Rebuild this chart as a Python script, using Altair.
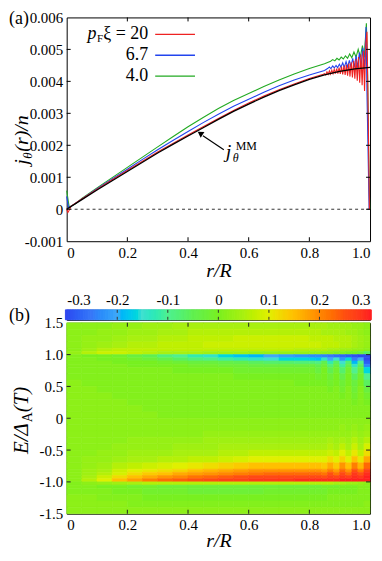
import altair as alt
import pandas as pd
import numpy as np

FONT = "Liberation Serif"
RED, BLUE, GREEN = "#ee2222", "#2244ee", "#22aa22"

# ---------------- panel (a): j_theta(r)/n, values in units of 1e-3 ----------------
mm_r = [0, 0.05, 0.10, 0.15, 0.20, 0.25, 0.30, 0.35, 0.40, 0.45, 0.50, 0.55, 0.60, 0.65, 0.70, 0.75, 0.80, 0.85, 0.90, 0.95, 1.0]
mm_j = [0, 0.30, 0.60, 0.89, 1.18, 1.47, 1.76, 2.03, 2.29, 2.55, 2.81, 3.06, 3.29, 3.51, 3.71, 3.89, 4.06, 4.20, 4.31, 4.39, 4.44]

red_r = [0, 0.004, 0.008, 0.015, 0.03, 0.05, 0.10, 0.15, 0.20, 0.25, 0.30, 0.35, 0.40, 0.45, 0.50, 0.55, 0.60, 0.65, 0.70, 0.75, 0.80, 0.846,
         0.850, 0.854, 0.858, 0.862, 0.866, 0.870, 0.874, 0.878, 0.882, 0.886, 0.890, 0.894, 0.898, 0.902, 0.906, 0.910, 0.914, 0.918,
         0.922, 0.926, 0.930, 0.934, 0.938, 0.942, 0.946, 0.950, 0.954, 0.958, 0.962, 0.966, 0.970, 0.974, 0.978, 0.982, 0.986, 0.990,
         0.993, 0.996, 0.998]
red_j = [0, -0.10, -0.03, 0.10, 0.20, 0.32, 0.63, 0.92, 1.21, 1.50, 1.79, 2.06, 2.32, 2.58, 2.84, 3.09, 3.32, 3.54, 3.74, 3.92, 4.09, 4.22,
         4.24, 4.20, 4.30, 4.22, 4.33, 4.23, 4.35, 4.24, 4.38, 4.24, 4.40, 4.24, 4.43, 4.23, 4.46, 4.22, 4.49, 4.20,
         4.52, 4.18, 4.56, 4.15, 4.60, 4.12, 4.64, 4.08, 4.70, 4.02, 4.76, 3.96, 4.84, 3.88, 4.95, 3.70, 5.20, 5.55,
         3.65, 1.50, 0.0]

blue_r = [0, 0.006, 0.012, 0.02, 0.05, 0.10, 0.15, 0.20, 0.25, 0.30, 0.35, 0.40, 0.45, 0.50, 0.55, 0.60, 0.65, 0.70, 0.75, 0.80, 0.85,
          0.860, 0.866, 0.871, 0.877, 0.882, 0.888, 0.893, 0.899, 0.904, 0.910, 0.915, 0.921, 0.926, 0.932, 0.937, 0.943, 0.948,
          0.954, 0.959, 0.965, 0.970, 0.976, 0.981, 0.987, 0.990, 0.993, 0.997]
blue_j = [0.40, 0.05, 0.08, 0.13, 0.32, 0.64, 0.95, 1.25, 1.56, 1.86, 2.15, 2.43, 2.71, 2.97, 3.22, 3.44, 3.66, 3.86, 4.04, 4.20, 4.34,
          4.40, 4.45, 4.40, 4.48, 4.42, 4.50, 4.43, 4.54, 4.44, 4.58, 4.44, 4.62, 4.45, 4.66, 4.45, 4.72, 4.44,
          4.80, 4.42, 4.90, 4.40, 5.05, 4.35, 5.70, 3.60, 2.10, 0.0]

green_r = [0, 0.008, 0.015, 0.03, 0.05, 0.10, 0.15, 0.20, 0.25, 0.30, 0.35, 0.40, 0.45, 0.50, 0.55, 0.60, 0.65, 0.70, 0.75, 0.80, 0.85,
           0.870, 0.877, 0.884, 0.891, 0.898, 0.905, 0.912, 0.919, 0.926, 0.933, 0.940, 0.947, 0.954, 0.961, 0.968, 0.975,
           0.981, 0.988, 0.992, 0.995, 0.999]
green_j = [0.58, 0.08, 0.10, 0.18, 0.34, 0.67, 0.99, 1.31, 1.63, 1.95, 2.27, 2.58, 2.87, 3.15, 3.40, 3.62, 3.84, 4.04, 4.23, 4.40, 4.55,
           4.63, 4.68, 4.64, 4.72, 4.67, 4.76, 4.70, 4.80, 4.72, 4.86, 4.74, 4.92, 4.76, 5.00, 4.76, 5.12,
           4.75, 5.82, 4.20, 2.00, 0.0]

legend_labels = ["ξ = 20", "6.7", "4.0"]
a_xticks = [0, 0.2, 0.4, 0.6, 0.8, 1.0]
a_yticks = [-0.001, 0, 0.001, 0.002, 0.003, 0.004, 0.005, 0.006]
zero_level = [0.0]

# ---------------- panel (b): spectral current density map ----------------
r_edges = [0, 0.05, 0.10, 0.15, 0.20, 0.25, 0.30, 0.35, 0.40, 0.45, 0.50, 0.55, 0.60, 0.65, 0.70, 0.75, 0.80,
           0.82, 0.84, 0.86, 0.88, 0.90, 0.92, 0.94, 0.96, 0.98, 1.0]
e_edges = [1.5, 1.4, 1.3, 1.2, 1.1, 1.05, 1.0, 0.95, 0.9, 0.85, 0.8, 0.7, 0.6, 0.5, 0.4, 0.3, 0.2, 0.1, 0.0,
           -0.1, -0.2, -0.3, -0.4, -0.5, -0.6, -0.7, -0.8, -0.85, -0.9, -0.95, -1.0, -1.05, -1.1, -1.2, -1.3, -1.4, -1.5]
# values x100, rows from top (E=1.5) to bottom (E=-1.5), columns along r_edges
grid = [
    [2, 2, 2, 3, 3, 4, 4, 5, 5, 5, 5, 5, 5, 5, 5, 5, 5, 5, 5, 4, 4, 4, 4, 3, 3, 2],
    [2, 2, 3, 3, 4, 4, 5, 5, 6, 6, 6, 6, 6, 6, 6, 6, 6, 6, 5, 5, 5, 5, 4, 4, 3, 2],
    [2, 3, 3, 4, 5, 5, 6, 6, 7, 7, 7, 8, 8, 8, 8, 8, 7, 7, 7, 7, 6, 6, 6, 5, 4, 3],
    [2, 3, 4, 5, 6, 6, 7, 7, 7, 8, 8, 8, 8, 8, 8, 8, 8, 8, 7, 7, 7, 6, 6, 5, 4, 3],
    [2, 4, 6, 7, 7, 7, 7, 7, 7, 7, 7, 7, 7, 7, 7, 6, 6, 6, 6, 5, 5, 4, 4, 3, 3, 2],
    [3, 6, 8, 8, 7, 6, 5, 5, 5, 4, 4, 4, 3, 3, 3, 3, 3, 3, 2, 2, 1, 1, 0, 0, -2, -6],
    [1, 0, 0, -1, -3, -5, -8, -10, -12, -14, -16, -18, -19, -20, -21, -22, -23, -23, -24, -25, -26, -27, -28, -29, -30, -30],
    [1, 1, 0, 0, -1, -2, -4, -6, -8, -9, -11, -12, -14, -15, -16, -16, -17, -18, -14, -20, -15, -22, -16, -25, -20, -30],
    [1, 1, 1, 0, 0, 0, -1, -2, -3, -3, -4, -5, -6, -7, -7, -8, -8, -9, -5, -12, -6, -15, -7, -19, -10, -28],
    [1, 1, 1, 1, 0, 0, 0, 0, -1, -1, -2, -2, -3, -3, -3, -3, -3, -5, -2, -8, -3, -11, -4, -14, -6, -24],
    [1, 1, 1, 1, 1, 1, 1, 0, 0, 0, 0, -1, -1, -1, -1, -1, -1, -3, 0, -5, -1, -7, -1, -10, -3, -16],
    [1, 1, 1, 1, 1, 1, 1, 1, 1, 1, 1, 0, 0, 0, 0, 0, 0, -1, 0, -2, 0, -4, 0, -6, -1, -10],
    [2, 1, 1, 1, 1, 1, 1, 1, 1, 1, 1, 1, 1, 1, 1, 0, 0, 0, 0, -1, 0, -2, 0, -3, 0, -6],
    [2, 2, 1, 1, 1, 1, 1, 1, 1, 1, 1, 1, 1, 1, 1, 1, 1, 1, 1, 0, 1, -1, 1, -2, 1, -3],
    [2, 2, 2, 1, 1, 1, 1, 1, 1, 1, 1, 1, 1, 1, 1, 1, 1, 1, 1, 1, 1, 0, 1, -1, 1, -1],
    [2, 2, 2, 2, 1, 1, 1, 1, 1, 1, 1, 1, 1, 1, 1, 1, 1, 1, 1, 1, 1, 1, 1, 0, 1, 0],
    [2, 2, 2, 2, 2, 1, 1, 1, 1, 1, 1, 1, 1, 1, 1, 1, 1, 1, 1, 1, 1, 1, 1, 1, 1, 1],
    [2, 2, 2, 2, 2, 2, 1, 1, 1, 1, 1, 1, 1, 1, 1, 1, 1, 1, 1, 1, 1, 1, 1, 1, 1, 1],
    [2, 2, 2, 2, 2, 2, 2, 2, 2, 2, 2, 2, 2, 2, 2, 2, 2, 2, 2, 2, 2, 2, 2, 2, 2, 2],
    [2, 2, 2, 2, 2, 2, 2, 2, 2, 2, 2, 2, 2, 2, 2, 2, 2, 2, 2, 2, 2, 3, 2, 3, 2, 3],
    [2, 2, 2, 2, 2, 2, 2, 2, 2, 3, 3, 3, 3, 3, 3, 3, 3, 3, 3, 3, 3, 3, 3, 4, 3, 4],
    [2, 2, 2, 2, 3, 3, 3, 3, 3, 4, 4, 4, 4, 4, 4, 4, 4, 4, 4, 5, 4, 5, 4, 6, 4, 6],
    [2, 2, 2, 3, 3, 3, 3, 4, 4, 4, 5, 5, 5, 5, 5, 5, 5, 5, 5, 6, 5, 7, 5, 8, 5, 9],
    [2, 2, 3, 3, 4, 4, 4, 5, 5, 5, 6, 6, 7, 7, 7, 7, 7, 7, 7, 8, 7, 10, 7, 11, 7, 12],
    [2, 3, 3, 4, 5, 5, 6, 6, 7, 7, 8, 9, 10, 10, 10, 10, 10, 10, 10, 12, 10, 13, 10, 15, 11, 17],
    [2, 3, 4, 6, 7, 8, 9, 10, 11, 12, 13, 14, 15, 15, 15, 15, 15, 15, 14, 17, 14, 19, 15, 21, 16, 23],
    [2, 4, 5, 8, 10, 11, 12, 13, 15, 16, 17, 18, 19, 19, 19, 19, 19, 19, 18, 21, 18, 23, 19, 25, 21, 27],
    [2, 4, 6, 9, 12, 14, 15, 17, 18, 19, 20, 21, 22, 23, 23, 23, 23, 23, 22, 25, 22, 26, 23, 28, 25, 29],
    [2, 5, 8, 12, 15, 17, 19, 20, 22, 23, 24, 25, 26, 26, 26, 26, 26, 26, 25, 27, 26, 28, 27, 29, 28, 30],
    [2, 6, 10, 15, 18, 21, 23, 24, 25, 26, 27, 27, 28, 28, 28, 29, 29, 29, 29, 29, 29, 30, 30, 30, 30, 30],
    [1, 2, 3, 4, 5, 6, 6, 6, 6, 6, 6, 6, 6, 6, 6, 6, 6, 6, 6, 6, 5, 5, 4, 4, 3, 2],
    [1, 1, 0, 0, -1, -1, -2, -2, -2, -2, -2, -2, -2, -2, -2, -2, -2, -2, -1, -1, -1, 0, 0, 0, 1, 1],
    [1, 1, 1, 0, 0, -1, -1, -1, -2, -2, -2, -2, -2, -1, -1, -1, -1, -1, -1, 0, 0, 0, 0, 0, 1, 1],
    [2, 2, 1, 1, 1, 0, 0, 0, 0, 0, 0, 0, 0, 0, 0, 0, 0, 0, 0, 1, 1, 1, 1, 1, 1, 1],
    [2, 2, 2, 2, 1, 1, 1, 1, 1, 1, 1, 1, 1, 1, 1, 1, 1, 1, 1, 1, 1, 1, 1, 1, 1, 2],
    [2, 2, 2, 2, 2, 2, 2, 2, 2, 2, 2, 2, 2, 2, 2, 2, 2, 2, 2, 2, 2, 2, 2, 2, 2, 2],
]
b_xticks = [0, 0.2, 0.4, 0.6, 0.8, 1.0]
b_yticks = [-1.5, -1.0, -0.5, 0, 0.5, 1.0, 1.5]
cb_ticks = [-0.3, -0.2, -0.1, 0, 0.1, 0.2, 0.3]
cb_stops = [-0.3, -0.25, -0.2, -0.15, -0.1, -0.05, 0, 0.05, 0.1, 0.15, 0.2, 0.25, 0.3]
cb_colors = ["#3048f0", "#3878f8", "#40a8f8", "#40e0d0", "#50f090", "#60f050", "#78f020",
             "#a8f010", "#e0f000", "#ffc000", "#ff8800", "#ff5010", "#ff2020"]

# ---------------- build ----------------
WA, HA = 305, 225
WB, HB = 305, 192
TL = 4  # inward tick length

def curve(r, j):
    return pd.DataFrame({"r": r, "j": np.array(j) / 1000.0})

def label(text, size, x, y, italic=False, align="left", baseline="alphabetic", angle=0):
    kw = dict(font=FONT, fontSize=size, align=align, baseline=baseline, color="black")
    if italic:
        kw["fontStyle"] = "italic"
    if angle:
        kw["angle"] = angle
    return alt.Chart(pd.DataFrame({"t": [text]})).mark_text(**kw).encode(
        x=alt.value(x), y=alt.value(y), text="t:N")

num1 = "datum.value == 0 ? '0' : format(datum.value, '.1f')"
sgn1 = "datum.value == 0 ? '0' : (datum.value < 0 ? '-' : '') + format(abs(datum.value), '.1f')"
sgn3 = "datum.value == 0 ? '0' : (datum.value < 0 ? '-' : '') + format(abs(datum.value), '.3f')"

xa_scale = alt.Scale(domain=[0, 1], nice=False, zero=False)
ya_scale = alt.Scale(domain=[-0.001, 0.006], nice=False, zero=False)
xa_axis = alt.Axis(values=a_xticks, labelExpr=num1, title="r/R", labelPadding=4,
                   titleY=35, titleBaseline="alphabetic")
ya_axis = alt.Axis(values=a_yticks, labelExpr=sgn3, title=None, labelPadding=4)
XA = alt.X("r:Q", scale=xa_scale, axis=xa_axis)
YA = alt.Y("j:Q", scale=ya_scale, axis=ya_axis)

zero_rule = alt.Chart(pd.DataFrame({"j": zero_level})).mark_rule(
    color="black", strokeDash=[3, 3], strokeWidth=0.8).encode(y=YA)
l_green = alt.Chart(curve(green_r, green_j)).mark_line(color=GREEN, strokeWidth=1.1).encode(x=XA, y=YA)
l_blue = alt.Chart(curve(blue_r, blue_j)).mark_line(color=BLUE, strokeWidth=1.1).encode(x=XA, y=YA)
l_red = alt.Chart(curve(red_r, red_j)).mark_line(color=RED, strokeWidth=1.1).encode(x=XA, y=YA)
l_mm = alt.Chart(curve(mm_r, mm_j)).mark_line(color="black", strokeWidth=1.3).encode(x=XA, y=YA)

xt_a = pd.DataFrame({"r": a_xticks[1:-1]})
yt_a = pd.DataFrame({"j": a_yticks[1:-1]})
ticks_a = [
    alt.Chart(xt_a).mark_rule(color="black").encode(x=XA, y=alt.value(HA), y2=alt.value(HA - TL)),
    alt.Chart(xt_a).mark_rule(color="black").encode(x=XA, y=alt.value(0), y2=alt.value(TL)),
    alt.Chart(yt_a).mark_rule(color="black").encode(y=YA, x=alt.value(0), x2=alt.value(TL)),
    alt.Chart(yt_a).mark_rule(color="black").encode(y=YA, x=alt.value(WA), x2=alt.value(WA - TL)),
]

leg_colors = [RED, BLUE, GREEN]
leg_rows = [17, 38, 59]
legend_layers = []
for lab, col, yy in zip(legend_labels, leg_colors, leg_rows):
    legend_layers.append(label(lab, 18, 82, yy, align="right", baseline="middle"))
    legend_layers.append(alt.Chart(pd.DataFrame({"t": [lab]})).mark_rule(color=col, strokeWidth=1.3)
                         .encode(x=alt.value(89), x2=alt.value(129), y=alt.value(yy)))
legend_layers.append(label("p", 18, 30, 17, italic=True, align="right", baseline="middle"))
legend_layers.append(label("F", 11, 30.5, 22, baseline="middle"))

annot = [
    alt.Chart(pd.DataFrame({"t": ["arrow"]})).mark_rule(color="black", strokeWidth=1.2)
    .encode(x=alt.value(158), y=alt.value(133), x2=alt.value(137), y2=alt.value(119)),
    alt.Chart(pd.DataFrame({"t": ["arrow"]})).mark_point(shape="triangle", filled=True, color="black", size=45,
                                                         angle=304, opacity=1)
    .encode(x=alt.value(135), y=alt.value(117)),
    label("j", 20, 160, 141, italic=True),
    label("MM", 12, 170, 133),
    label("θ", 12, 167, 145, italic=True),
]
lab_a = label("(a)", 18, -58, 2, baseline="middle")

# y title of (a): j_θ(r)/n, rotated
ytitle_a = [
    label("j", 20, -39, 148, italic=True, angle=270),
    label("θ", 13, -35, 142, italic=True, angle=270),
    label("(r)/n", 20, -39, 135, italic=True, angle=270),
]

top = alt.layer(zero_rule, l_green, l_blue, l_red, l_mm, *ticks_a, *legend_layers, *annot, lab_a, *ytitle_a) \
    .properties(width=WA, height=HA)

# heatmap
rows = []
for i in range(len(e_edges) - 1):
    for k in range(len(r_edges) - 1):
        rows.append({"r0": r_edges[k], "r1": r_edges[k + 1], "e0": e_edges[i + 1], "e1": e_edges[i],
                     "v": grid[i][k] / 100.0})
heat_df = pd.DataFrame(rows)
cscale = alt.Scale(domain=cb_stops, range=cb_colors, clamp=True)

xb_scale = alt.Scale(domain=[0, 1], nice=False, zero=False)
yb_scale = alt.Scale(domain=[-1.5, 1.5], nice=False, zero=False)
xb_axis = alt.Axis(values=b_xticks, labelExpr=num1, title="r/R", labelPadding=4,
                   titleY=33, titleBaseline="alphabetic")
yb_axis = alt.Axis(values=b_yticks, labelExpr=sgn1, title=None, labelPadding=4)
XB = alt.X("r0:Q", scale=xb_scale, axis=xb_axis)
YB = alt.Y("e0:Q", scale=yb_scale, axis=yb_axis)

cells = alt.Chart(heat_df).mark_rect(strokeWidth=0.6).encode(
    x=XB, x2="r1:Q", y=YB, y2="e1:Q",
    color=alt.Color("v:Q", scale=cscale, legend=None),
    stroke=alt.Stroke("v:Q", scale=cscale, legend=None),
)
xt_b = pd.DataFrame({"r0": b_xticks[1:-1]})
yt_b = pd.DataFrame({"e0": b_yticks[1:-1]})
ticks_b = [
    alt.Chart(xt_b).mark_rule(color="#222").encode(x=XB, y=alt.value(HB), y2=alt.value(HB - TL)),
    alt.Chart(xt_b).mark_rule(color="#222").encode(x=XB, y=alt.value(0), y2=alt.value(TL)),
    alt.Chart(yt_b).mark_rule(color="#222").encode(y=YB, x=alt.value(0), x2=alt.value(TL)),
    alt.Chart(yt_b).mark_rule(color="#222").encode(y=YB, x=alt.value(WB), x2=alt.value(WB - TL)),
]
# y title of (b): E/Δ_A(T), rotated
ytitle_b = [
    label("E/Δ", 21, -39, 132, italic=True, angle=270),
    label("A", 14, -35, 100, angle=270),
    label("(T)", 21, -39, 90, italic=True, angle=270),
]
heat = alt.layer(cells, *ticks_b, *ytitle_b).properties(width=WB, height=HB)

# colorbar
cb_v = np.round(np.linspace(-0.3, 0.3, 121), 4)
cb_df = pd.DataFrame({"v": cb_v, "v0": cb_v - 0.0025, "v1": cb_v + 0.0025})
XC = alt.X("v0:Q", scale=alt.Scale(domain=[-0.3, 0.3], nice=False, zero=False),
           axis=alt.Axis(orient="top", values=cb_ticks, labelExpr=sgn1, title=None, labelPadding=2))
cbar_rects = alt.Chart(cb_df).mark_rect().encode(
    x=XC, x2="v1:Q",
    color=alt.Color("v:Q", scale=cscale, legend=None),
    stroke=alt.Stroke("v:Q", scale=cscale, legend=None))
ct = pd.DataFrame({"v0": cb_ticks[1:-1]})
cb_ticks_l = [
    alt.Chart(ct).mark_rule(color="#333").encode(x=XC, y=alt.value(0), y2=alt.value(3)),
    alt.Chart(ct).mark_rule(color="#333").encode(x=XC, y=alt.value(10), y2=alt.value(7)),
]
lab_b = label("(b)", 18, -58, 6, baseline="middle")
cbar = alt.layer(cbar_rects, *cb_ticks_l, lab_b).properties(width=WB, height=10)

chart = alt.vconcat(top, alt.vconcat(cbar, heat, spacing=3, bounds="flush"), spacing=69, bounds="flush").properties(
    padding={"left": 0, "top": 0, "right": 0, "bottom": 0}, background="white"
).configure_view(stroke="black", strokeWidth=1).configure_axis(
    labelFont=FONT, labelFontSize=15, labelColor="black",
    titleFont=FONT, titleFontSize=20, titleFontStyle="italic", titleFontWeight="normal", titleColor="black",
    ticks=False, domain=False, grid=False
)

chart.save("out.html", embed_options={"renderer": "svg", "actions": False})
